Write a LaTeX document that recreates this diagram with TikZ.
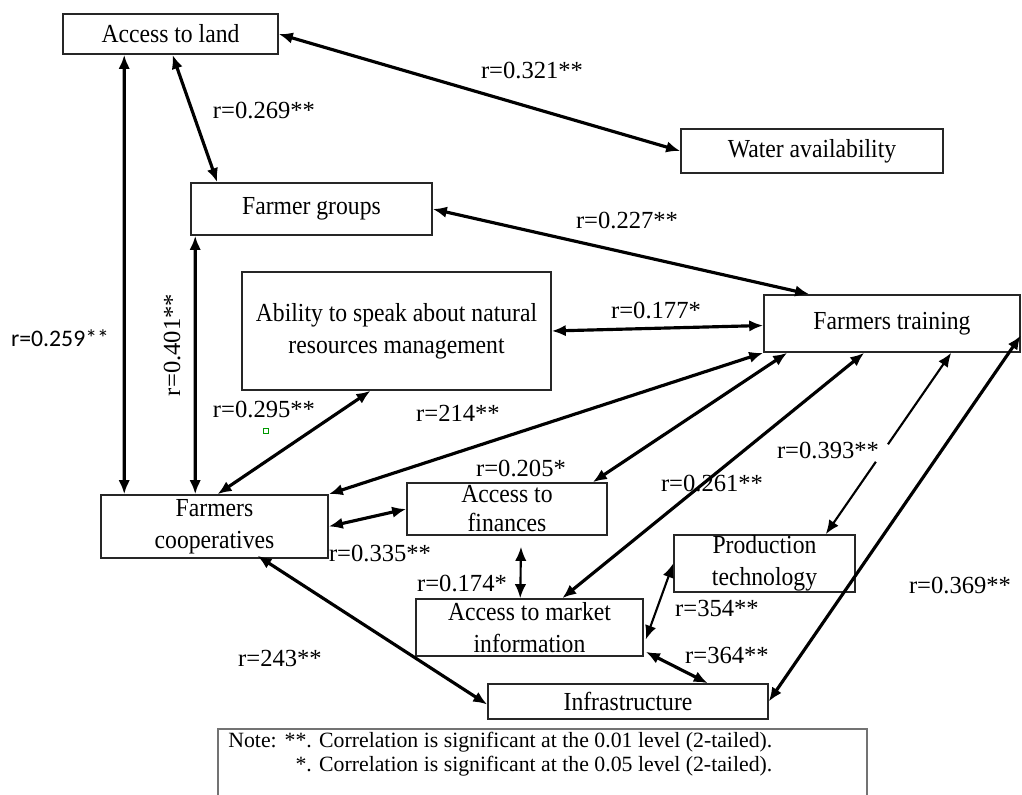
\documentclass[tikz,border=0pt]{standalone}
\usepackage{fontspec}
\setmainfont{Liberation Serif}
\newfontfamily\boxfont{Liberation Serif}[FakeStretch=0.91]
\newfontfamily\calibri{Carlito}
\usetikzlibrary{arrows.meta,calc}

\tikzset{
  box/.style={draw=black!85, line width=0.9pt, inner sep=0pt, align=center,
    font=\boxfont\fontsize{14.8}{18}\selectfont},
  rlabel/.style={inner sep=1pt, font=\fontsize{14}{16}\selectfont},
  link/.style={<->, line width=1.8pt, >={Latex[length=8pt,width=6.5pt]}},
  thinlink/.style={link, line width=1.2pt},
}

\begin{document}
\begin{tikzpicture}[x=0.02cm, y=-0.02cm]
        \useasboundingbox (0,0) rectangle (1022,795);
        % boxes
        \node[box, minimum width=4.3cm, minimum height=0.8cm] (land) at (170.5,34) {Access to land};
        \node[box, minimum width=5.24cm, minimum height=0.88cm] (water) at (812,151) {Water availability};
        \node[box, minimum width=4.82cm, minimum height=1.04cm] (groups) at (311.5,209) {Farmer groups};
        \node[box, minimum width=6.18cm, minimum height=2.36cm] (ability) at (396.5,331) {Ability to speak about natural\\resources management};
        \node[box, minimum width=5.12cm, minimum height=1.14cm] (training) at (892,323.5) {Farmers training};
        \node[box, minimum width=4.54cm, minimum height=1.26cm] (coop) at (214.5,526.5) {Farmers\\cooperatives};
        \node[box, minimum width=4.0cm, minimum height=1.04cm,
              font=\boxfont\fontsize{14.8}{16.5}\selectfont] (finances) at (507,509) {Access to\\finances};
        \node[box, minimum width=4.54cm, minimum height=1.14cm] (market) at (529.5,627.5) {Access to market\\information};
        \node[box, minimum width=3.62cm, minimum height=1.14cm] (prodtech) at (764.5,563.5) {Production\\technology};
        \node[box, minimum width=5.6cm, minimum height=0.7cm] (infra) at (628,701.5) {Infrastructure};

        % connectors
        \draw[link] (land.east) -- (water.west);
        \draw[link] ($(land.south)+(2,0)$) -- ($(groups.north west)+(27,0)$);
        \draw[link] ($(land.south west)+(62,0)$) -- ($(coop.north west)+(24,0)$);
        \draw[link] ($(groups.south west)+(5,0)$) -- ($(coop.north west)+(95,0)$);
        \draw[link] (groups.east) -- ($(training.north west)+(46,0)$);
        \draw[link] (ability.east) -- ($(training.west)+(0,2)$);
        \draw[link] ($(ability.south)+(-26,0)$) -- ($(coop.north)+(3,0)$);
        \draw[link] (training.south west) -- (coop.north east);
        \draw[link] ($(training.south west)+(24,0)$) -- ($(finances.north east)+(-15,0)$);
        \draw[link] (coop.east) -- (finances.west);
        \draw[link] ($(training.south west)+(101,0)$) -- ($(market.north west)+(147,0)$);
        \coordinate (tp1) at ($(training.south west)+(188,0)$);
        \coordinate (tp2) at ($(prodtech.north east)+(-30,0)$);
        \draw[thinlink] (tp1) -- (tp2);
        \draw[white, line width=3pt] ($(tp1)!0.505!(tp2)$) -- ($(tp1)!0.6!(tp2)$);
        \draw[link] ($(training.east)+(0,12)$) -- (infra.east);
        \draw[thinlink] ($(finances.south)+(14,11)$) -- ($(market.north west)+(105,0)$);
        \draw[thinlink] ($(market.east)+(2,12)$) -- (prodtech.west);
        \draw[link] ($(market.south east)+(2,-5)$) -- ($(infra.north east)+(-61,0)$);
        \draw[link] ($(coop.south)+(43,-3)$) -- ($(infra.west)+(0,3)$);

        % labels
        \node[rlabel] (rlw) at (532,70) {r=0.321**};
        \node[rlabel] (rlg) at (264,110) {r=0.269**};
        \node[rlabel, font=\calibri\fontsize{13.5}{16}\selectfont] (rlc) at (60,338) {r=0.259**};
        \node[rlabel, rotate=90] (rgc) at (172,345) {r=0.401**};
        \node[rlabel] (rgt) at (627,220) {r=0.227**};
        \node[rlabel] (rat) at (656,310) {r=0.177*};
        \node[rlabel] (rac) at (264,409) {r=0.295**};
        \node[rlabel] (rtc) at (458,413) {r=214**};
        \node[rlabel] (rtf) at (521,468) {r=0.205*};
        \node[rlabel] (rcf) at (380,553) {r=0.335**};
        \node[rlabel] (rtm) at (712,483) {r=0.261**};
        \node[rlabel] (rtp) at (828,450) {r=0.393**};
        \node[rlabel] (rti) at (960,585) {r=0.369**};
        \node[rlabel] (rfm) at (462,583) {r=0.174*};
        \node[rlabel] (rmp) at (717,608) {r=354**};
        \node[rlabel] (rmi) at (727,655) {r=364**};
        \node[rlabel] (rci) at (280,658) {r=243**};
        \draw[green!60!black, line width=0.5pt] (263,428) rectangle (268,433);

        % note
        \draw[black!55, line width=0.6pt] (218,795) |- (867,729) -- (867,795);
        \node[anchor=west, inner sep=0pt, font=\fontsize{12.4}{13.6}\selectfont] (note) at (228,755)
          {\begin{tabular}{@{}l@{\hspace{4.5pt}}r@{ }l@{}}
           Note: & **. & Correlation is significant at the 0.01 level (2-tailed).\\
                 & *.  & Correlation is significant at the 0.05 level (2-tailed).
           \end{tabular}};
\end{tikzpicture}
\end{document}
